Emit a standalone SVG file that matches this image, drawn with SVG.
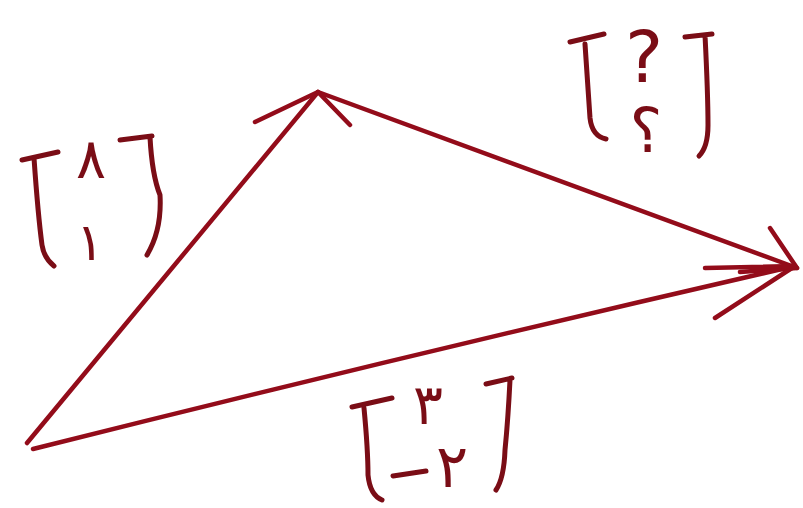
<svg xmlns="http://www.w3.org/2000/svg" width="803" height="508" viewBox="0 0 803 508">
<style>
.ln{fill:none;stroke:#930c1a;stroke-width:4.5;stroke-linecap:round;stroke-linejoin:round}
.br{fill:none;stroke:#7a0d16;stroke-width:5;stroke-linecap:round;stroke-linejoin:round}
.t{font-family:"DejaVu Sans",sans-serif;fill:#7a0d16;text-anchor:middle}
</style>
<rect width="803" height="508" fill="#ffffff"/>
<g id="connectors">
<path class="ln" d="M27 443 L318 92"/>
<path class="ln" d="M255 122 L318 92 L350 125"/>
<path class="ln" d="M318 92 Q560 180 797 268"/>
<path class="ln" d="M770 228 L797 268 L740 272"/>
<path class="ln" d="M33 449 Q420 352 795 266"/>
<path class="ln" d="M705 268 L795 266 L715 318"/>
</g>
<g id="label-left">
<path class="br" d="M22 160 L58 152 M34 158 Q38 215 42 245 Q44 258 54 266"/>
<path class="br" d="M120 140 L152 136 M150 137 Q152 175 160 195 Q162 230 147 255"/>
<text class="t" x="91" y="178" font-size="56">۸</text>
<text class="t" x="90" y="260" font-size="52">۱</text>
</g>
<g id="label-top">
<path class="br" d="M570 42 L604 34 M585 44 Q588 90 590 118 Q592 136 606 139"/>
<path class="br" d="M685 37 L712 34 M705 35 Q708 95 708 125 Q708 147 699 156"/>
<text class="t" x="644" y="82" font-size="72">?</text>
<text class="t" x="646" y="152" font-size="62">؟</text>
</g>
<g id="label-bottom">
<path class="br" d="M352 407 L392 398 M364 408 Q368 450 368 475 Q370 495 382 500"/>
<path class="br" d="M486 384 L512 378 M510 380 Q508 420 505 450 Q504 478 496 490"/>
<text class="t" x="428" y="424" font-size="56">۳</text>
<path class="br" d="M393 476 L426 471"/>
<text class="t" x="452" y="487" font-size="60">۲</text>
</g>
</svg>
